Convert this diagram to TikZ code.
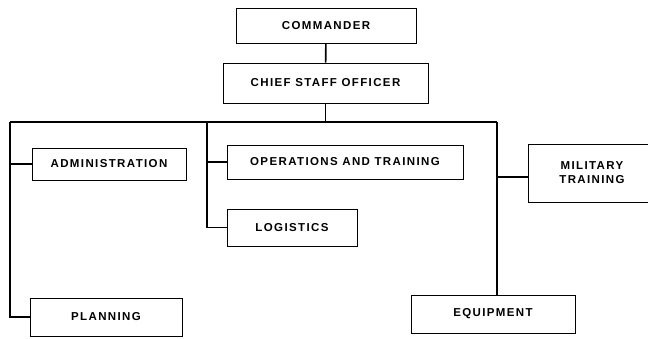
\documentclass[tikz,border=0pt]{standalone}
\usepackage{fontspec}
\newfontfamily\orgfont[LetterSpace=12]{Liberation Sans Bold}
\usepackage{tikz}
\tikzset{
	boxstyle/.style={rectangle,draw=black,line width=0.9pt,fill=white,font=\orgfont\fontsize{11.5}{14}\selectfont,align=center,inner sep=0pt},
	linkstyle/.style={line width=1.6pt}
}

\begin{document}
\begin{tikzpicture}[x=1pt,y=-1pt]
	\useasboundingbox (0,0) rectangle (648,339);
	\node[boxstyle,minimum width=180,minimum height=35] (cmdr) at (326,25.5) {COMMANDER};
	\node[boxstyle,minimum width=205,minimum height=40] (cso) at (325.5,83) {CHIEF STAFF OFFICER};
	\node[boxstyle,minimum width=154,minimum height=32] (admin) at (109,164) {ADMINISTRATION};
	\node[boxstyle,minimum width=236,minimum height=34] (ops) at (345,162) {OPERATIONS AND TRAINING};
	\node[boxstyle,minimum width=130,minimum height=37] (logs) at (292,227.5) {LOGISTICS};
	\node[boxstyle,minimum width=128,minimum height=58] (mil) at (592,173) {MILITARY\\TRAINING};
	\node[boxstyle,minimum width=152,minimum height=38] (plan) at (106,317) {PLANNING};
	\node[boxstyle,minimum width=164,minimum height=38] (equip) at (493,314) {EQUIPMENT};
	\coordinate (bl) at (10,122);
	\coordinate (bm) at (207,122);
	\coordinate (br) at (497,122);
	\coordinate (milin) at ([yshift=-4pt]mil.west);
	\draw[linkstyle] (cmdr)--(cso);
	\draw[linkstyle] (cso)--(cso |- bl);
	\draw[linkstyle] (bl)--(br);
	\draw[linkstyle] (bl) |- (plan.west);
	\draw[linkstyle] (admin.west)--(bl |- admin.west);
	\draw[linkstyle] (bm) |- (logs.west);
	\draw[linkstyle] (ops.west)--(bm |- ops.west);
	\draw[linkstyle] (br)--(br |- equip.north);
	\draw[linkstyle] (milin)--(br |- milin);
\end{tikzpicture}
\end{document}
